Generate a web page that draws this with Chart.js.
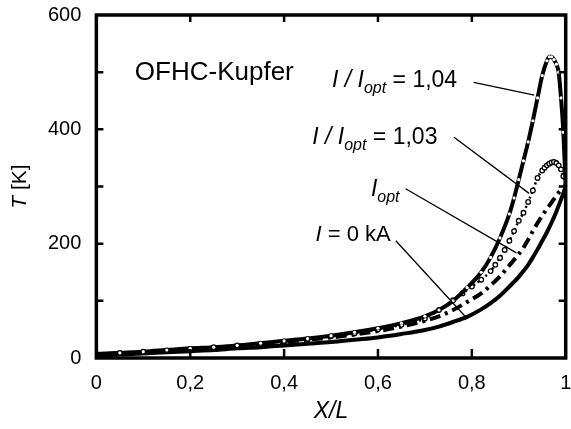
<!DOCTYPE html>
<html>
<head>
<meta charset="utf-8">
<script src="https://cdn.jsdelivr.net/npm/chart.js@4"></script>
<style>
  body { margin: 0; background: #fff; }
</style>
</head>
<body>
<canvas id="myChart" width="571" height="429"></canvas>
<script>
// X/L positions and temperatures T [K]
var xs = [0, 0.05, 0.1, 0.15, 0.2, 0.25, 0.3, 0.35, 0.4, 0.45, 0.5, 0.55, 0.6, 0.65, 0.7, 0.73, 0.76, 0.79, 0.82, 0.84, 0.86, 0.88, 0.9, 0.91, 0.92, 0.93, 0.94, 0.95, 0.96, 0.97, 0.98, 0.99, 1.0]
var tZero = [4, 6, 8, 10, 12, 14, 17, 19, 22, 25, 28, 32, 36, 42, 49, 55, 63, 72, 85, 96, 109, 125, 142, 152, 163, 176, 190, 205, 220, 237, 256, 277, 300]
var tOpt = [6, 8, 10, 13, 16, 18, 21, 24, 28, 32, 36, 41, 47, 55, 65, 73, 84, 98, 113, 127, 143, 162, 182, 193, 207, 222, 236, 249, 261, 272, 284, 294, 300]

var x103 = [0, 0.05, 0.1, 0.15, 0.2, 0.25, 0.3, 0.35, 0.4, 0.45, 0.5, 0.55, 0.6, 0.65, 0.7, 0.73, 0.76, 0.78, 0.8, 0.82, 0.84, 0.85, 0.86, 0.87, 0.88, 0.89, 0.9, 0.91, 0.92, 0.93, 0.94, 0.95, 0.955, 0.96, 0.965, 0.97, 0.975, 0.98, 0.985, 0.99, 0.995, 1.0]
var t103 = [7, 9, 11, 13, 16, 19, 22, 25, 29, 33, 38, 43, 50, 58, 69, 84, 101, 113, 125, 137, 152, 163, 175, 189, 205, 222, 240, 254, 273, 293, 315, 328, 333, 337, 340, 342, 343, 341, 337, 330, 318, 300]

var x104 = [0, 0.05, 0.1, 0.15, 0.2, 0.25, 0.3, 0.35, 0.4, 0.45, 0.5, 0.55, 0.6, 0.65, 0.7, 0.73, 0.76, 0.79, 0.82, 0.84, 0.86, 0.88, 0.89, 0.9, 0.91, 0.92, 0.93, 0.94, 0.95, 0.96, 0.965, 0.97, 0.975, 0.98, 0.985, 0.99, 0.995, 1.0]
var t104 = [7, 9, 11, 14, 17, 19, 22, 26, 30, 34, 39, 45, 52, 61, 73, 84, 100, 123, 150, 176, 210, 252, 280, 312, 345, 378, 415, 455, 494, 520, 527, 527, 522, 514, 500, 455, 395, 300]

var xTicks = [0, 0.2, 0.4, 0.6, 0.8, 1]
var yTicks = [0, 200, 400, 600]

// annotations: anchor of text (x, T) and leader line ends
var noteX = [0.502, 0.46, 0.585, 0.467]
var noteT = [474, 375, 284, 205]
var leadX1 = [0.804, 0.762, 0.659, 0.638]
var leadT1 = [482, 386, 296, 205]
var leadX2 = [0.933, 0.922, 0.895, 0.789]
var leadT2 = [460, 288, 184, 70]

var FONT = '"Liberation Sans", Arial, sans-serif'

function pts(x, y){
	return x.map(function(v, i){ return {x: v, y: y[i]} })
}

function runs(ctx, x, y, list){
	list.forEach(function(r){
		ctx.font = (r.it ? 'italic ' : '') + r.size + 'px ' + FONT
		ctx.fillText(r.t, x, y + (r.dy || 0))
		x += ctx.measureText(r.t).width
	})
}

const frame = {
	id: 'frame',
	afterDraw: function(chart){
		var ctx = chart.ctx
		var a = chart.chartArea
		var sx = chart.scales.x, sy = chart.scales.y
		ctx.save()
		ctx.strokeStyle = '#000'
		ctx.fillStyle = '#000'

		// inward ticks
		ctx.lineWidth = 2.5
		ctx.beginPath()
		;[0.2, 0.4, 0.6, 0.8].forEach(function(v){
			var px = sx.getPixelForValue(v)
			ctx.moveTo(px, a.bottom); ctx.lineTo(px, a.bottom - 9)
			ctx.moveTo(px, a.top); ctx.lineTo(px, a.top + 7)
		})
		;[100, 200, 300, 400, 500].forEach(function(v){
			var py = sy.getPixelForValue(v)
			ctx.moveTo(a.left, py); ctx.lineTo(a.left + 7, py)
			ctx.moveTo(a.right, py); ctx.lineTo(a.right - 7, py)
		})
		ctx.stroke()

		ctx.lineWidth = 3.5
		ctx.strokeRect(a.left, a.top, a.right - a.left, a.bottom - a.top)

		// leader lines
		ctx.lineWidth = 1.3
		ctx.beginPath()
		for (var i = 0; i < leadX1.length; i++){
			ctx.moveTo(sx.getPixelForValue(leadX1[i]), sy.getPixelForValue(leadT1[i]))
			ctx.lineTo(sx.getPixelForValue(leadX2[i]), sy.getPixelForValue(leadT2[i]))
		}
		ctx.stroke()

		ctx.textBaseline = 'alphabetic'
		ctx.textAlign = 'left'
		ctx.font = '26px ' + FONT
		ctx.fillText('OFHC-Kupfer', sx.getPixelForValue(0.082), sy.getPixelForValue(486))

		var p = function(i){ return [sx.getPixelForValue(noteX[i]), sy.getPixelForValue(noteT[i])] }
		var q
		q = p(0)
		runs(ctx, q[0], q[1], [{t: 'I / I', it: true, size: 23}, {t: 'opt', it: true, size: 16, dy: 6}, {t: ' = 1,04', size: 23}])
		q = p(1)
		runs(ctx, q[0], q[1], [{t: 'I / I', it: true, size: 23}, {t: 'opt', it: true, size: 16, dy: 6}, {t: ' = 1,03', size: 23}])
		q = p(2)
		runs(ctx, q[0], q[1], [{t: 'I', it: true, size: 23}, {t: 'opt', it: true, size: 16, dy: 6}])
		q = p(3)
		runs(ctx, q[0], q[1], [{t: 'I', it: true, size: 22}, {t: ' = 0 kA', size: 22}])

		// axis titles
		ctx.textAlign = 'center'
		ctx.font = 'italic 23px ' + FONT
		ctx.fillText('X/L', (a.left + a.right) / 2, 418)

		ctx.translate(26, (a.top + a.bottom) / 2)
		ctx.rotate(-Math.PI / 2)
		ctx.textAlign = 'left'
		ctx.font = 'italic 21px ' + FONT
		var w1 = ctx.measureText('T').width
		ctx.font = '21px ' + FONT
		var w2 = ctx.measureText(' [K]').width
		var x0 = -(w1 + w2) / 2
		ctx.font = 'italic 21px ' + FONT
		ctx.fillText('T', x0, 0)
		ctx.font = '21px ' + FONT
		ctx.fillText(' [K]', x0 + w1, 0)
		ctx.restore()
	}
}

const data = {
	datasets: [{
		label: 'I / Iopt = 1,04',
		data: pts(x104, t104),
		borderColor: '#000',
		borderWidth: 4,
		pointRadius: 1.6,
		pointBackgroundColor: '#fff',
		pointBorderWidth: 0,
	}, {
		label: 'I / Iopt = 1,03',
		data: pts(x103, t103),
		borderColor: '#000',
		borderWidth: 2.5,
		borderDash: [2, 3],
		pointRadius: 2.3,
		pointBackgroundColor: '#fff',
		pointBorderColor: '#000',
		pointBorderWidth: 1.3,
	}, {
		label: 'Iopt',
		data: pts(xs, tOpt),
		borderColor: '#000',
		borderWidth: 4,
		borderDash: [11, 5, 3, 5],
		pointRadius: 0,
	}, {
		label: 'I = 0 kA',
		data: pts(xs, tZero),
		borderColor: '#000',
		borderWidth: 4,
		pointRadius: 0,
	}]
}

const config = {
	type: 'line',
	data: data,
	options: {
		responsive: false,
		animation: false,
		devicePixelRatio: 1,
		cubicInterpolationMode: 'monotone',
		layout: {padding: {left: 33, right: -1, top: 15, bottom: 21}},
		plugins: {legend: {display: false}, tooltip: {enabled: false}},
		scales: {
			x: {
				type: 'linear', min: 0, max: 1,
				grid: {display: false, drawTicks: false},
				border: {display: false},
				afterBuildTicks: function(s){ s.ticks = xTicks.map(function(v){ return {value: v} }) },
				afterFit: function(s){ s.paddingLeft = 0; s.paddingRight = 0 },
				ticks: {
					color: '#000', padding: 13, maxRotation: 0,
					font: {family: FONT, size: 20},
					callback: function(v){ return String(v).replace('.', ',') }
				}
			},
			y: {
				min: 0, max: 600,
				grid: {display: false, drawTicks: false},
				border: {display: false},
				afterBuildTicks: function(s){ s.ticks = yTicks.map(function(v){ return {value: v} }) },
				afterFit: function(s){ s.paddingTop = 0; s.paddingBottom = 0 },
				ticks: {
					color: '#000', padding: 15,
					font: {family: FONT, size: 20}
				}
			}
		}
	},
	plugins: [frame]
}

const myChart = new Chart(document.getElementById('myChart'), config)
</script>
</body>
</html>
